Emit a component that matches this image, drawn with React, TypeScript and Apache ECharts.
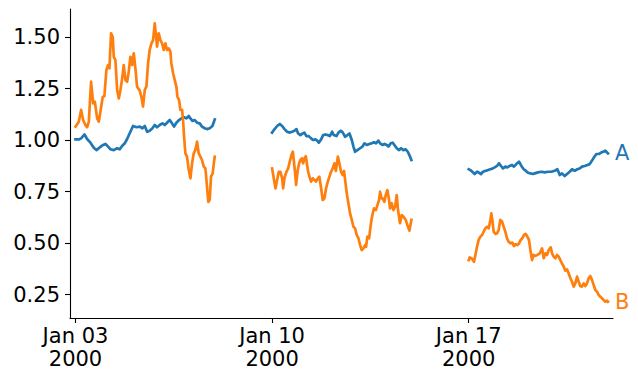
import React, { useEffect, useRef } from 'react';
import * as echarts from 'echarts';

// Week start dates (each week's data: hours offset from Monday 00:00 UTC, value)
const weekStarts = ['2000-01-03', '2000-01-10', '2000-01-17'];
const xTickDates = ['2000-01-03', '2000-01-10', '2000-01-17'];
const yTicks = [0.25, 0.5, 0.75, 1.0, 1.25, 1.5];
const seriesNames = ['A', 'B'];
const seriesColors = ['#1f77b4', '#ff7f0e'];
const monthNames = ['Jan', 'Feb', 'Mar', 'Apr', 'May', 'Jun', 'Jul', 'Aug', 'Sep', 'Oct', 'Nov', 'Dec'];

const aWeek1: [number, number][] = [
  [0, 1.003], [2.8, 1.003], [4.8, 1.008], [7.7, 1.027], [9.9, 1.005], [12.8, 0.987], [15.6, 0.963], [17.9, 0.951],
  [20.7, 0.964], [23.6, 0.976], [25.6, 0.981], [27.9, 0.968], [29.9, 0.955], [32.7, 0.951], [35.6, 0.96], [37.8, 0.955],
  [39.8, 0.971], [42.1, 0.984], [44.1, 1.005], [46.9, 1.04], [49.2, 1.068], [52.1, 1.062], [54.9, 1.065], [57.2, 1.057],
  [59.2, 1.068], [61.2, 1.04], [63.4, 1.045], [65.7, 1.057], [67.7, 1.073], [69.7, 1.062], [72, 1.073], [74.3, 1.081],
  [76.3, 1.073], [78.2, 1.084], [80.5, 1.097], [82.5, 1.081], [84.2, 1.065], [86.2, 1.084], [88.5, 1.097], [90.5, 1.105],
  [92.8, 1.11], [94.8, 1.105], [96.8, 1.117], [98.2, 1.105], [99.9, 1.093], [101.9, 1.097], [103.9, 1.084], [106.1, 1.081],
  [108.1, 1.065], [110.4, 1.057], [112.4, 1.053], [114.7, 1.057], [117, 1.068], [118.3, 1.089], [119, 1.1],
];
const aWeek2: [number, number][] = [
  [0, 1.036], [2, 1.052], [4.3, 1.068], [6.6, 1.078], [8.6, 1.068], [10.6, 1.053], [12.8, 1.04], [15.1, 1.036],
  [17.1, 1.04], [19.1, 1.045], [20.8, 1.053], [22.2, 1.032], [24.2, 1.024], [26.2, 1.032], [27.6, 1.036], [29.3, 1.019],
  [31.3, 1.019], [33.3, 1.008], [35, 1.0], [37, 1.003], [38.5, 0.997], [39.9, 0.987], [41.9, 1.003], [43.6, 1.024],
  [45.6, 1.027], [47.6, 1.024], [49.3, 1.019], [51.3, 1.04], [52.7, 1.024], [55, 1.019], [56.7, 1.036], [58.7, 1.045],
  [60.4, 1.036], [62.4, 1.016], [64.4, 1.024], [66.1, 1.032], [68.1, 1.0], [69.5, 0.968], [70.9, 0.943], [72.9, 0.951],
  [75.2, 0.96], [77.2, 0.968], [78.9, 0.984], [80.9, 0.976], [83.2, 0.981], [85.2, 0.984], [87.1, 0.989], [88.8, 0.984],
  [90.8, 0.997], [92.3, 0.984], [94.3, 0.976], [96, 0.981], [98, 0.976], [99.4, 0.968], [101.4, 0.984], [103.1, 0.987],
  [105.1, 0.971], [106.5, 0.96], [108.5, 0.951], [110.2, 0.96], [112.2, 0.951], [114.2, 0.955], [115.9, 0.943],
  [117.9, 0.919], [119, 0.903],
];
const aWeek3: [number, number][] = [
  [0, 0.858], [1.4, 0.854], [3.1, 0.846], [5.1, 0.835], [7.1, 0.846], [8.8, 0.841], [10.5, 0.835], [12.2, 0.846],
  [14.5, 0.851], [16.5, 0.854], [18.5, 0.858], [20.2, 0.861], [22.2, 0.867], [24.2, 0.874], [25.9, 0.887], [27.6, 0.874],
  [29.3, 0.862], [31.3, 0.871], [33, 0.867], [35, 0.874], [37, 0.879], [38.7, 0.871], [40.7, 0.883], [43, 0.895],
  [45, 0.874], [47, 0.858], [48.7, 0.851], [50.7, 0.841], [52.7, 0.838], [55, 0.835], [56.4, 0.838], [59.2, 0.843],
  [62.1, 0.846], [64.9, 0.843], [67.8, 0.846], [70.6, 0.846], [73.5, 0.851], [75.8, 0.858], [77.8, 0.83], [79.7, 0.838],
  [82, 0.825], [84, 0.835], [86.3, 0.846], [88.3, 0.858], [90.6, 0.851], [92.8, 0.858], [94.8, 0.862], [96.8, 0.871],
  [99.1, 0.874], [101.4, 0.879], [103.4, 0.883], [105.4, 0.9], [107.1, 0.916], [109.1, 0.932], [111.1, 0.932],
  [112.8, 0.938], [114.8, 0.943], [116.8, 0.948], [119, 0.935],
];

const bWeek1: [number, number][] = [
  [0, 1.065], [2.8, 1.089], [4.8, 1.146], [6.5, 1.097], [8.5, 1.073], [9.9, 1.062], [11.4, 1.089], [13.3, 1.283],
  [15.1, 1.178], [16.5, 1.186], [18.5, 1.105], [19.9, 1.089], [21.3, 1.138], [23.3, 1.21], [24.7, 1.213], [26.4, 1.34],
  [27.9, 1.364], [29, 1.348], [30.4, 1.518], [31.8, 1.501], [32.7, 1.404], [34.1, 1.388], [35.6, 1.243], [37, 1.202],
  [38.4, 1.243], [40.1, 1.307], [41.2, 1.364], [42.7, 1.291], [44.1, 1.283], [45.5, 1.332], [46.9, 1.404], [48.4, 1.364],
  [49.8, 1.421], [51.2, 1.348], [52.6, 1.259], [54.9, 1.24], [56.3, 1.21], [57.7, 1.162], [59.2, 1.243], [60.6, 1.259],
  [62, 1.372], [63.4, 1.437], [64.9, 1.469], [66.3, 1.485], [67.7, 1.566], [68.6, 1.518], [69.7, 1.453], [71.1, 1.518],
  [72.6, 1.485], [74, 1.469], [75.4, 1.437], [76.8, 1.469], [78.2, 1.437], [79.7, 1.445], [81.1, 1.429], [81.9, 1.372],
  [83.4, 1.324], [84.8, 1.291], [86.2, 1.259], [87.1, 1.21], [88.5, 1.194], [89.6, 1.146], [91.1, 1.146], [91.9, 1.097],
  [92.8, 1.016], [93.9, 0.935], [95.3, 0.919], [96.8, 0.854], [98.2, 0.814], [99.6, 0.887], [101, 0.935], [102.4, 0.951],
  [103.9, 0.992], [105.3, 0.935], [106.7, 0.919], [108.1, 0.903], [109.6, 0.871], [111, 0.862], [112.4, 0.773],
  [113.5, 0.7], [114.7, 0.709], [115.8, 0.822], [117.2, 0.838], [118.2, 0.887], [119, 0.919],
];
const bWeek2: [number, number][] = [
  [0, 0.862], [1.4, 0.814], [2.9, 0.765], [4.3, 0.806], [5.7, 0.846], [7.1, 0.846], [8.6, 0.814], [9.4, 0.765],
  [10.8, 0.822], [12.3, 0.846], [13.7, 0.862], [15.1, 0.895], [16.5, 0.927], [17.7, 0.943], [18.5, 0.903], [19.7, 0.838],
  [20.5, 0.782], [21.9, 0.854], [23.1, 0.887], [24.2, 0.903], [25.4, 0.911], [26.5, 0.887], [27.6, 0.911], [28.8, 0.921],
  [29.9, 0.879], [30.8, 0.846], [31.9, 0.822], [33.3, 0.798], [34.7, 0.814], [36.2, 0.806], [37.6, 0.798], [39, 0.814],
  [40.4, 0.822], [41.9, 0.765], [43.3, 0.709], [44.7, 0.717], [46.1, 0.765], [47.6, 0.798], [49, 0.822], [50.4, 0.846],
  [51.8, 0.862], [53.3, 0.887], [54.5, 0.85], [56.2, 0.919], [57.5, 0.887], [58.9, 0.846], [60.4, 0.83], [61.5, 0.85],
  [62.4, 0.806], [63.8, 0.741], [65.2, 0.693], [66.6, 0.644], [68.1, 0.612], [69.5, 0.579], [70.9, 0.571], [72.3, 0.539],
  [73.8, 0.523], [75.2, 0.49], [76.6, 0.466], [78, 0.474], [79.5, 0.49], [80.3, 0.482], [81.4, 0.531], [82.9, 0.523],
  [83.7, 0.563], [84.9, 0.612], [86, 0.644], [87.1, 0.668], [88.6, 0.66], [90, 0.684], [91.4, 0.709], [92.3, 0.749],
  [93.4, 0.717], [94.5, 0.717], [96, 0.7], [97.1, 0.733], [98.5, 0.757], [99.7, 0.717], [100.8, 0.668], [102.2, 0.693],
  [103.6, 0.66], [105.1, 0.676], [106.5, 0.733], [107.6, 0.66], [109.3, 0.596], [110.8, 0.636], [112.2, 0.628],
  [114.2, 0.612], [115.6, 0.587], [117.3, 0.56], [118.2, 0.587], [119, 0.612],
];
const bWeek3: [number, number][] = [
  [0, 0.417], [0.8, 0.43], [2.3, 0.426], [3.7, 0.417], [4.5, 0.409], [5.7, 0.442], [7.1, 0.482], [8.5, 0.515],
  [10, 0.531], [11.4, 0.539], [12.8, 0.555], [14.2, 0.571], [15.6, 0.579], [17.1, 0.571], [18.5, 0.612], [19.3, 0.644],
  [20.2, 0.612], [21.3, 0.555], [22.8, 0.544], [24.2, 0.547], [25.6, 0.563], [27, 0.612], [28.5, 0.604], [29.9, 0.579],
  [31.3, 0.555], [32.7, 0.523], [34.1, 0.507], [35.6, 0.498], [37.3, 0.502], [38.7, 0.485], [40.1, 0.495], [41.6, 0.49],
  [43, 0.498], [44.4, 0.515], [45.8, 0.523], [47.2, 0.539], [48.7, 0.544], [50.1, 0.531], [51.5, 0.515], [52.7, 0.466],
  [54.1, 0.417], [55.5, 0.442], [56.4, 0.437], [58.7, 0.442], [60.7, 0.45], [62.7, 0.474], [64.1, 0.426], [65.5, 0.45],
  [66.9, 0.442], [68.4, 0.466], [70.1, 0.479], [71.2, 0.45], [72.6, 0.434], [74.1, 0.426], [75.5, 0.442], [76.9, 0.434],
  [78.3, 0.417], [79.7, 0.401], [81.2, 0.385], [82.6, 0.366], [84, 0.372], [85.4, 0.353], [86.9, 0.329], [88.3, 0.312],
  [89.7, 0.288], [91.1, 0.304], [92.6, 0.337], [94, 0.312], [95.4, 0.29], [96.8, 0.288], [98.3, 0.304], [99.7, 0.291],
  [101.1, 0.304], [102.5, 0.329], [103.9, 0.34], [105.4, 0.32], [106.8, 0.296], [108.2, 0.272], [109.6, 0.264],
  [111, 0.248], [112.5, 0.239], [113.9, 0.232], [115.3, 0.223], [116.8, 0.215], [118.2, 0.22], [119, 0.215],
];

const seriesWeeks = [
  [aWeek1, aWeek2, aWeek3],
  [bWeek1, bWeek2, bWeek3],
];

const HOUR = 3600 * 1000;
const dayMs = (d: string) => Date.parse(d + 'T00:00:00Z');

function buildData(weeks: [number, number][][]) {
  const out: any[] = [];
  weeks.forEach((wk, i) => {
    const base = dayMs(weekStarts[i]);
    wk.forEach(([h, v]) => out.push([base + h * HOUR, v]));
    if (i < weeks.length - 1) out.push([base + 132 * HOUR, '-']);
  });
  return out;
}

const FONT = 'DejaVu Sans';

export default function App() {
  const ref = useRef<HTMLDivElement>(null);
  useEffect(() => {
    if (!ref.current) return;
    const chart = echarts.init(ref.current, null, { renderer: 'svg' });
    const xTicks = xTickDates.map(dayMs);
    const xMin = dayMs(weekStarts[0]) - 4.7 * HOUR;
    const xMax = dayMs(weekStarts[2]) + 123.3 * HOUR;
    chart.setOption({
      animation: false,
      backgroundColor: '#ffffff',
      grid: { left: 70, right: 25, top: 9, bottom: 62, containLabel: false },
      xAxis: {
        type: 'value',
        min: xMin,
        max: xMax,
        scale: true,
        splitLine: { show: false },
        axisLine: { show: true, lineStyle: { color: '#000', width: 1.1 } },
        axisTick: { show: true, customValues: xTicks, length: 5, lineStyle: { color: '#000', width: 1.1 } },
        axisLabel: {
          customValues: xTicks,
          margin: 6,
          color: '#000',
          fontSize: 21,
          lineHeight: 23,
          fontFamily: FONT,
          formatter: (val: number) => {
            const d = new Date(val);
            return `${monthNames[d.getUTCMonth()]} ${String(d.getUTCDate()).padStart(2, '0')}\n${d.getUTCFullYear()}`;
          },
        },
      },
      yAxis: {
        type: 'value',
        min: 0.136,
        max: 1.636,
        splitLine: { show: false },
        axisLine: { show: true, lineStyle: { color: '#000', width: 1.1 } },
        axisTick: { show: true, customValues: yTicks, length: 5, lineStyle: { color: '#000', width: 1.1 } },
        axisLabel: {
          customValues: yTicks,
          margin: 10,
          color: '#000',
          fontSize: 21,
          fontFamily: FONT,
          formatter: (v: number) => v.toFixed(2),
        },
      },
      series: seriesNames.map((name, i) => ({
        name,
        type: 'line',
        data: buildData(seriesWeeks[i]),
        showSymbol: false,
        connectNulls: false,
        lineStyle: { color: seriesColors[i], width: 2.7, cap: 'square', join: 'round' },
        itemStyle: { color: seriesColors[i] },
        endLabel: {
          show: true,
          formatter: '{a}',
          color: seriesColors[i],
          fontSize: 21,
          fontFamily: FONT,
          distance: 7,
        },
      })),
    });
    return () => chart.dispose();
  }, []);
  return <div ref={ref} style={{ position: 'fixed', left: 0, top: 0, width: 638, height: 380, background: '#fff' }} />;
}
